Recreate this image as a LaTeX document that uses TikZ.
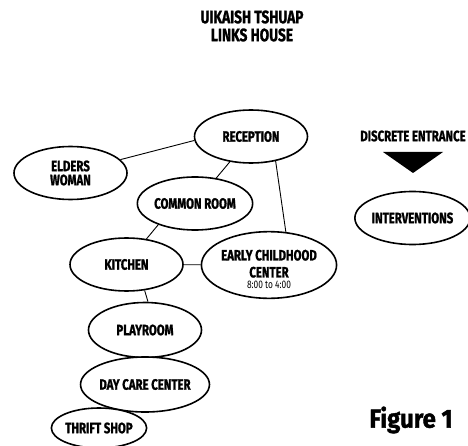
\documentclass[tikz,border=0pt]{standalone}
\usepackage{fontspec}
\setmainfont[FakeStretch=0.76, BoldFeatures={FakeBold=1.2}]{Fira Sans}
\newfontfamily\figfont[FakeStretch=0.92, BoldFeatures={FakeBold=1.5}]{Fira Sans}
\usetikzlibrary{
    shapes.geometric
}

\begin{document}
\begin{tikzpicture}[
        x=1pt, y=-1pt,
        every node/.style={font=\fontsize{15pt}{17pt}\selectfont\bfseries},
        room/.style={
            ellipse,
            draw=black,
            line width=1.6pt,
            fill=white,
            inner sep=0pt,
            minimum width=113pt,
            minimum height=53pt,
            align=center
        },
        link/.style={
            line width=0.9pt,
            draw=black
        },
        heading/.style={
            align=center,
            font=\fontsize{18pt}{18pt}\selectfont\bfseries
        }
    ]

    \clip (0,0) rectangle (468,446);

    % title
    \node[heading] (title) at (252,26) {UIKAISH TSHUAP\\LINKS HOUSE};

    % rooms
    \node[room] (reception) at (251,136.5) {RECEPTION};
    \node[room] (elders) at (70.5,173) {ELDERS\\[-3pt]WOMAN};
    \node[room] (common) at (195,203.5) {COMMON ROOM};
    \node[room] (kitchen) at (126.5,264.5) {KITCHEN};
    \node[room, minimum width=112pt] (early) at (269,265)
        {\rule{0pt}{19pt}EARLY CHILDHOOD\\[0pt]CENTER\\[-6pt]
         {\fontsize{11pt}{11pt}\selectfont\mdseries 8:00 to 4:00}};
    \node[room, minimum height=55pt] (playroom) at (145,330) {PLAYROOM};
    \node[room, minimum height=55pt] (daycare) at (145,384.5) {DAY CARE CENTER};
    \node[room, minimum width=91pt, minimum height=40pt] (thrift) at (99,428)
        {THRIFT SHOP};

    % entrance
    \node (entrance) at (413,136) {DISCRETE ENTRANCE};
    \fill (383,152) -- (443,152) -- (413,173) -- cycle;
    \node[room, minimum width=111pt] (interventions) at (412.5,218)
        {INTERVENTIONS};

    % links
    \draw[link] (reception.184) -- (elders.15);
    \draw[link] (reception) -- (common);
    \draw[link] (reception.-45) -- (early.63);
    \draw[link] (common.210) -- (kitchen.52);
    \draw[link] (kitchen) -- (early);
    \draw[link] (kitchen.-55) -- (playroom.84);

    \node[font=\figfont\fontsize{26pt}{28pt}\selectfont\bfseries] (figure) at (411,420)
        {Figure 1};

\end{tikzpicture}
\end{document}
